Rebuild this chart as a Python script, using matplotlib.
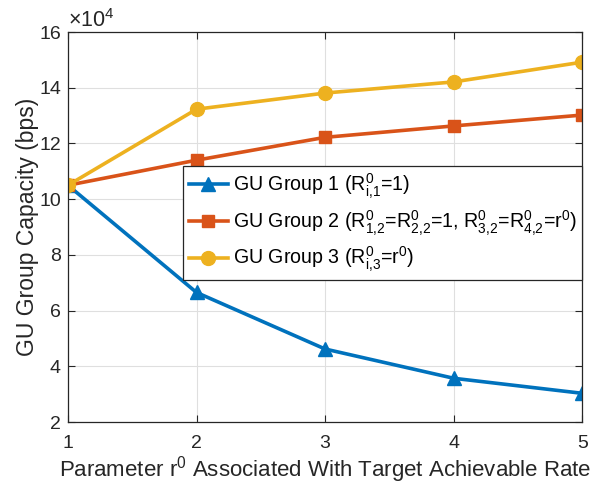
import matplotlib
matplotlib.use("Agg")
import matplotlib.pyplot as plt

plt.rcParams["font.family"] = ["Liberation Sans", "DejaVu Sans"]
plt.rcParams["mathtext.fontset"] = "custom"
plt.rcParams["mathtext.rm"] = "Liberation Sans"
plt.rcParams["mathtext.it"] = "Liberation Sans"
plt.rcParams["mathtext.default"] = "regular"

# r0 parameter values
r0 = [1, 2, 3, 4, 5]

# capacity in units of 1e4 bps
group1 = [10.5, 6.65, 4.62, 3.57, 3.03]
group2 = [10.5, 11.4, 12.22, 12.63, 13.02]
group3 = [10.5, 13.23, 13.81, 14.21, 14.92]

labels = [
    r"GU Group 1 (R$^0_{i{,}1}$=1)",
    r"GU Group 2 (R$^0_{1{,}2}$=R$^0_{2{,}2}$=1, R$^0_{3{,}2}$=R$^0_{4{,}2}$=r$^0$)",
    r"GU Group 3 (R$^0_{i{,}3}$=r$^0$)",
]

blue = "#0072BD"
red = "#D95319"
yellow = "#EDB120"
ink = "#262626"

fig = plt.figure(figsize=(5.96, 4.93), dpi=100)
ax = fig.add_axes([0.114, 0.144, 0.863, 0.791])

ax.plot(r0, group1, "-^", color=blue, lw=2.6, ms=10, label=labels[0])
ax.plot(r0, group2, "-s", color=red, lw=2.6, ms=8.5, label=labels[1])
ax.plot(r0, group3, "-o", color=yellow, lw=2.6, ms=10, label=labels[2])

ax.set_xlim(1, 5)
ax.set_ylim(2, 16)
ax.set_xticks([1, 2, 3, 4, 5])
ax.set_yticks([2, 4, 6, 8, 10, 12, 14, 16])
ax.grid(True, color="#dfdfdf", lw=0.8)
ax.set_axisbelow(True)
ax.tick_params(direction="in", labelsize=14, length=5, colors=ink,
               top=True, right=True, labeltop=False, labelright=False)
ax.tick_params(axis="x", pad=9)
ax.tick_params(axis="y", pad=5)
for s in ax.spines.values():
    s.set_color(ink)
    s.set_linewidth(0.9)

ax.set_xlabel(r"Parameter r$^0$ Associated With Target Achievable Rate",
              fontsize=16, color=ink, labelpad=2)
ax.set_ylabel("GU Group Capacity (bps)", fontsize=16.5, color=ink, labelpad=0)
ax.text(0.0, 1.0, r"$\times$10$^4$", transform=ax.transAxes,
        fontsize=15.5, color=ink, ha="left", va="bottom")

leg = ax.legend(loc="upper right", bbox_to_anchor=(1.0, 0.657), fontsize=14.1,
                fancybox=False, framealpha=1, edgecolor=ink,
                handlelength=2.0, borderaxespad=0, borderpad=0.3,
                labelspacing=0.38, handletextpad=0.25)
leg.get_frame().set_linewidth(0.9)

fig.savefig("out.png", dpi=100)
